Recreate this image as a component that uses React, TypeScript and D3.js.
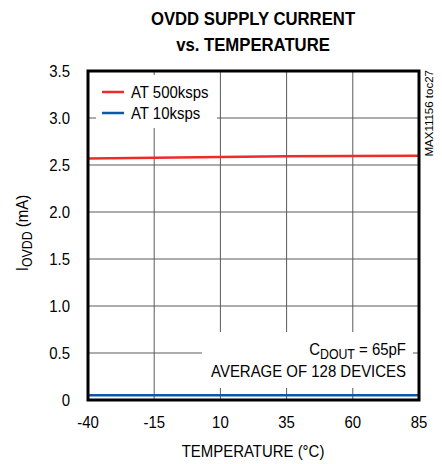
import React, { useRef, useEffect } from "react";
import * as d3 from "d3";

// temperature (°C)
const temps = [-40, -15, 10, 35, 60, 85];
// OVDD current (mA)
const at500k = [2.57, 2.578, 2.586, 2.592, 2.597, 2.598];
const at10k = [0.05, 0.05, 0.05, 0.05, 0.05, 0.05];
const xTicks = [-40, -15, 10, 35, 60, 85];
const yTicks = [0, 0.5, 1.0, 1.5, 2.0, 2.5, 3.0, 3.5];
const yTickLabels = ["0", "0.5", "1.0", "1.5", "2.0", "2.5", "3.0", "3.5"];

const W = 442;
const H = 464;
const FONT = "'Liberation Sans', Arial, sans-serif";
const SQ = 0.88; // horizontal squeeze to mimic a narrow face

const App: React.FC = () => {
  const svgRef = useRef<SVGSVGElement>(null);

  useEffect(() => {
    const svg = d3.select(svgRef.current);
    svg.selectAll("*").remove();

    const margin = { top: 71, right: 23, bottom: 64, left: 88 };
    const x = d3.scaleLinear().domain([-40, 85]).range([margin.left, W - margin.right]);
    const y = d3.scaleLinear().domain([0, 3.5]).range([H - margin.bottom, margin.top]);

    svg.append("rect").attr("width", W).attr("height", H).attr("fill", "white");

    // narrow-looking text at (tx, ty)
    const txt = (tx: number, ty: number, anchor: string, size: number, rot = 0, sq = SQ) =>
      svg.append("text")
        .attr("transform", `translate(${tx},${ty}) rotate(${rot}) scale(${sq},1)`)
        .attr("text-anchor", anchor)
        .attr("font-family", FONT)
        .attr("font-size", size);

    // grid
    const grid = svg.append("g").attr("stroke", "#5a5a5a").attr("stroke-width", 1);
    grid.selectAll(".vg")
      .data(xTicks.slice(1, -1))
      .enter()
      .append("line")
      .attr("x1", (d) => x(d))
      .attr("x2", (d) => x(d))
      .attr("y1", y(3.5))
      .attr("y2", y(0));
    grid.selectAll(".hg")
      .data(yTicks.slice(1, -1))
      .enter()
      .append("line")
      .attr("x1", x(-40))
      .attr("x2", x(85))
      .attr("y1", (d) => y(d))
      .attr("y2", (d) => y(d));

    // white boxes behind legend and note
    svg.append("rect")
      .attr("x", 96).attr("y", 75).attr("width", 121).attr("height", 53)
      .attr("fill", "white");
    svg.append("rect")
      .attr("x", 202).attr("y", 332).attr("width", 211).attr("height", 56)
      .attr("fill", "white");

    // series
    const line = d3.line<number>()
      .x((_, i) => x(temps[i]))
      .y((d) => y(d));
    svg.append("path")
      .datum(at500k)
      .attr("d", line)
      .attr("fill", "none")
      .attr("stroke", "#ee2a2a")
      .attr("stroke-width", 2.5);
    svg.append("path")
      .datum(at10k)
      .attr("d", line)
      .attr("fill", "none")
      .attr("stroke", "#0e57a8")
      .attr("stroke-width", 2.5);

    // frame
    svg.append("rect")
      .attr("x", x(-40))
      .attr("y", y(3.5))
      .attr("width", x(85) - x(-40))
      .attr("height", y(0) - y(3.5))
      .attr("fill", "none")
      .attr("stroke", "black")
      .attr("stroke-width", 3);

    // tick labels
    xTicks.forEach((d) => txt(x(d), 428, "middle", 17).text(String(d)));
    yTicks.forEach((d, i) => txt(70, y(d) + 6, "end", 17).text(yTickLabels[i]));

    // titles
    txt(253, 25, "middle", 19).attr("font-weight", "bold").text("OVDD SUPPLY CURRENT");
    txt(253, 51, "middle", 19).attr("font-weight", "bold").text("vs. TEMPERATURE");
    txt(253, 457, "middle", 17).text("TEMPERATURE (°C)");

    const yl = txt(28, 233, "middle", 17, -90);
    yl.append("tspan").text("I");
    yl.append("tspan").attr("dy", 4).attr("font-size", 14).text("OVDD");
    yl.append("tspan").attr("dy", -4).text(" (mA)");

    txt(433, 70, "end", 11.5, -90, 1).text("MAX11156 toc27");

    // legend
    const legend = [
      { label: "AT 500ksps", color: "#ee2a2a" },
      { label: "AT 10ksps", color: "#0e57a8" },
    ];
    legend.forEach((d, i) => {
      svg.append("line")
        .attr("x1", 102).attr("x2", 124)
        .attr("y1", 92 + i * 21)
        .attr("y2", 92 + i * 21)
        .attr("stroke", d.color)
        .attr("stroke-width", 2.5);
      txt(131, 98 + i * 21, "start", 17).text(d.label);
    });

    // note
    const note1 = txt(406, 355, "end", 17);
    note1.append("tspan").text("C");
    note1.append("tspan").attr("dy", 4).attr("font-size", 14).text("DOUT");
    note1.append("tspan").attr("dy", -4).text(" = 65pF");
    txt(406, 377, "end", 17).text("AVERAGE OF 128 DEVICES");
  }, []);

  return (
    <div style={{ position: "absolute", left: 0, top: 0 }}>
      <svg ref={svgRef} width={W} height={H} style={{ display: "block" }} />
    </div>
  );
};

export default App;
